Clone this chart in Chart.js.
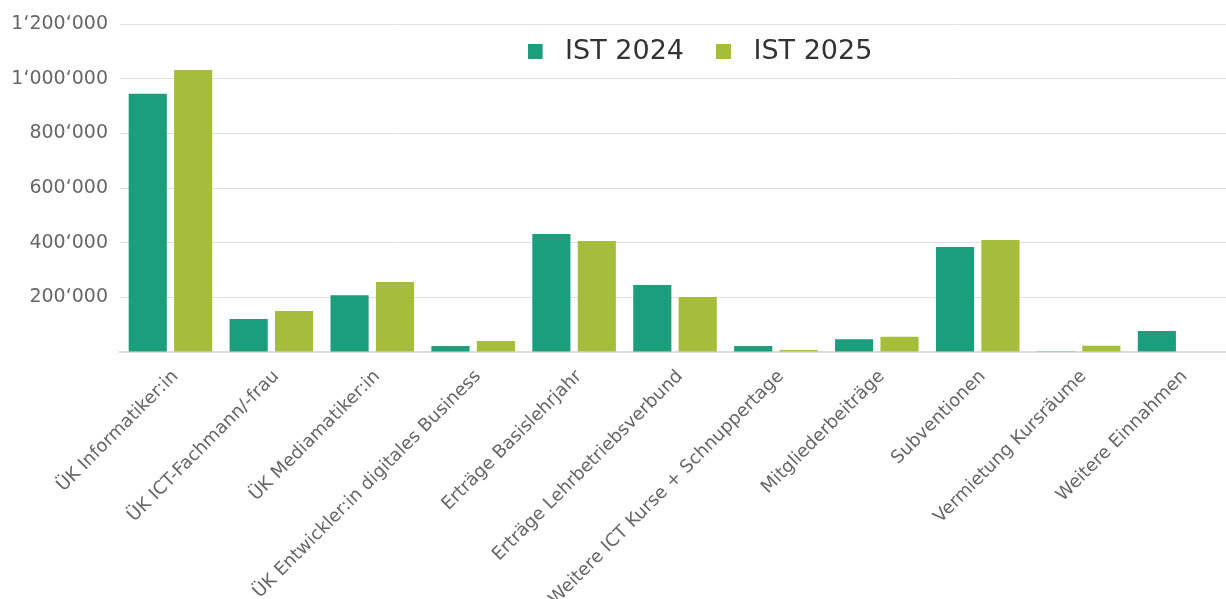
<!DOCTYPE html>
<html>
<head>
<meta charset="utf-8">
<script src="https://cdn.jsdelivr.net/npm/chart.js@4.4.1/dist/chart.umd.min.js"></script>
<style>
  html, body { margin: 0; padding: 0; background: #fff; overflow: hidden; }
  #wrap { position: relative; width: 1230px; height: 599px; }
</style>
</head>
<body>
<div id="wrap"><canvas id="chart"></canvas></div>
<script>
// Kategorien (Ertragspositionen)
const categories = [
    'ÜK Informatiker:in',
    'ÜK ICT-Fachmann/-frau',
    'ÜK Mediamatiker:in',
    'ÜK Entwickler:in digitales Business',
    'Erträge Basislehrjahr',
    'Erträge Lehrbetriebsverbund',
    'Weitere ICT Kurse + Schnuppertage',
    'Mitgliederbeiträge',
    'Subventionen',
    'Vermietung Kursräume',
    'Weitere Einnahmen'
];

// Werte
const ist2024 = [945000, 121000, 208000, 22000, 432000, 245000, 22000, 47000, 384000, 3000, 77000];
const ist2025 = [1032000, 150000, 256000, 40000, 406000, 201000, 7000, 56000, 410000, 23000, 2000];

const seriesLabels = ['IST 2024', 'IST 2025'];
const seriesColors = ['#1a9e7b', '#a4bd3a'];
const yTicks = [0, 200000, 400000, 600000, 800000, 1000000, 1200000];

const FONT = 'DejaVu Sans';

// Schweizer Tausendertrennzeichen
function formatCH(v) {
    if (v === 0) return '';
    return String(v).replace(/\B(?=(\d{3})+(?!\d))/g, '\u2018');
}

// Legenden-Symbol: Quadrat links, etwas Luft rechts bis zum Text
function makeIcon(color) {
    const c = document.createElement('canvas');
    c.width = 24;
    c.height = 15;
    const g = c.getContext('2d');
    g.fillStyle = color;
    g.fillRect(0, 0, 15, 15);
    return c;
}
const legendIcons = seriesColors.map(makeIcon);

// Legende oben, aber über dem Diagrammbereich (nimmt keinen Platz weg)
const legendInside = {
    id: 'legendInside',
    afterInit(chart) {
        const lg = chart.legend;
        const origFit = lg.fit;
        lg.fit = function () {
            origFit.call(this);
            this._realHeight = this.height;
            this.height = 0;
        };
    },
    afterLayout(chart) {
        const lg = chart.legend;
        const area = chart.chartArea;
        lg.top = area.top - 18;
        lg.height = lg._realHeight;
        lg.bottom = lg.top + lg.height;
        lg.left = area.left + 25;
        lg.right = area.right + 25;
        lg.width = lg.right - lg.left;
    }
};

const ctx = document.getElementById('chart').getContext('2d');
const myChart = new Chart(ctx, {
    type: 'bar',
    data: {
        labels: categories,
        datasets: [
            { label: seriesLabels[0], data: ist2024, backgroundColor: seriesColors[0] },
            { label: seriesLabels[1], data: ist2025, backgroundColor: seriesColors[1] }
        ]
    },
    options: {
        responsive: true,
        maintainAspectRatio: false,
        animation: false,
        layout: { padding: { top: 24, right: 0, left: 0, bottom: 0 } },
        datasets: {
            bar: { categoryPercentage: 0.9, barPercentage: 0.84 }
        },
        plugins: {
            legend: {
                position: 'top',
                align: 'center',
                labels: {
                    usePointStyle: true,
                    pointStyleWidth: 24,
                    boxHeight: 15,
                    padding: 32,
                    color: '#333',
                    font: { family: FONT, size: 27 },
                    generateLabels(chart) {
                        const items = Chart.defaults.plugins.legend.labels.generateLabels(chart);
                        items.forEach((it, i) => { it.pointStyle = legendIcons[i]; });
                        return items;
                    }
                }
            },
            tooltip: { enabled: false }
        },
        scales: {
            x: {
                grid: { display: false },
                border: { color: '#dcdcdc', width: 2 },
                ticks: {
                    color: '#666',
                    maxRotation: 45,
                    minRotation: 45,
                    autoSkip: false,
                    padding: 6,
                    labelOffset: 5,
                    font: { family: FONT, size: 18 }
                },
                afterFit(scale) { scale.height = 599 - 352; }
            },
            y: {
                min: 0,
                max: 1200000,
                afterBuildTicks(scale) { scale.ticks = yTicks.map(v => ({ value: v })); },
                grid: { color: '#e0e0e0', drawTicks: false },
                border: { display: false },
                ticks: {
                    color: '#666',
                    padding: 12,
                    font: { family: FONT, size: 19 },
                    callback: (v) => formatCH(v)
                },
                afterFit(scale) { scale.width = 120; }
            }
        }
    },
    plugins: [legendInside]
});
</script>
</body>
</html>
